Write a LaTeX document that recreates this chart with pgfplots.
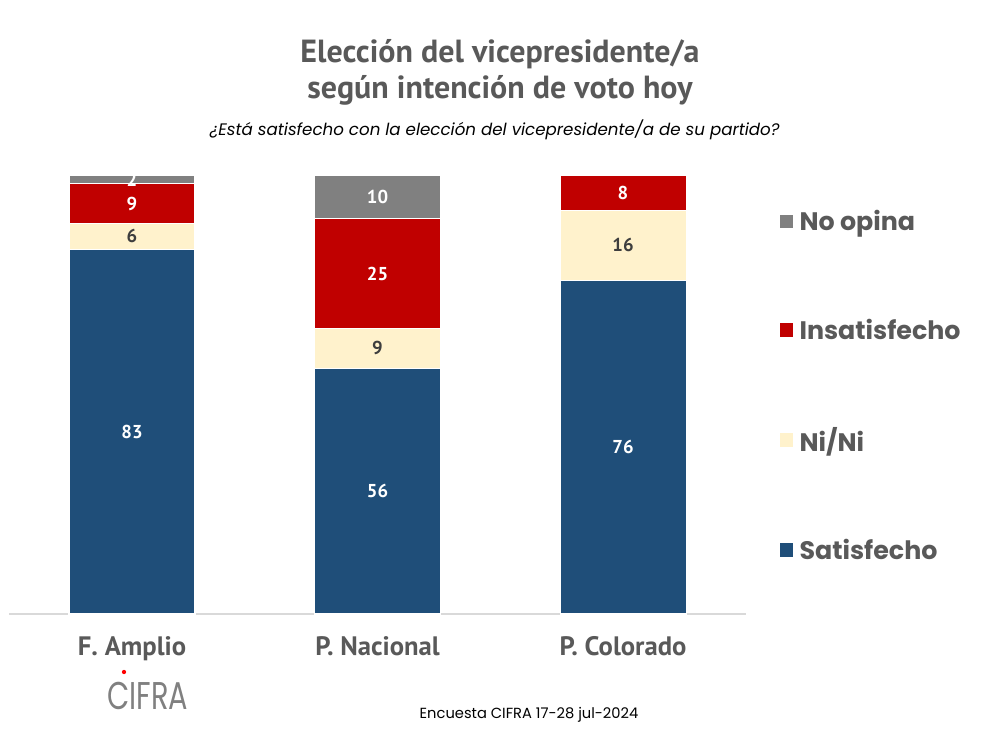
\documentclass[border=0pt]{standalone}
\usepackage{pgfplots}
\pgfplotsset{compat=1.18}
\usepackage{fontspec}
\setmainfont{PT Sans}
\newfontfamily\popp{Poppins}
\definecolor{navy}{HTML}{1F4E79}
\definecolor{cream}{HTML}{FFF2CC}
\definecolor{dred}{HTML}{C00000}
\definecolor{gr}{HTML}{808080}
\definecolor{txt}{HTML}{595959}
\definecolor{axl}{HTML}{D9D9D9}
\begin{document}
\begin{tikzpicture}
\path[use as bounding box] (0,0) rectangle (750pt,562.5pt);
% titles
\node[font=\bfseries\fontsize{24}{28}\selectfont, text=txt] at (375pt,522pt) {Elección del vicepresidente/a};
\node[font=\bfseries\fontsize{24}{28}\selectfont, text=txt] at (375pt,495pt) {según intención de voto hoy};
\node[font=\popp\itshape\fontsize{12.5}{15}\selectfont, text=black] at (371pt,465pt) {¿Está satisfecho con la elección del vicepresidente/a de su partido?};
\node[font=\popp\fontsize{11}{13}\selectfont, text=black] at (396.75pt,26.25pt) {Encuesta CIFRA 17-28 jul-2024};
\node[font=\popp\fontsize{20}{22}\selectfont, text=gr, xscale=1.08, yscale=1.45] at (111pt,40.5pt) {CIFRA};
\fill[red] (93pt,58.5pt) circle (1.6pt);

\begin{axis}[
  at={(6.94pt,102pt)}, anchor=south west,
  scale only axis, width=552.4pt, height=329.25pt,
  ybar stacked, bar width=94.5pt,
  xmin=-0.5, xmax=2.5, ymin=0, ymax=100,
  axis x line*=bottom, axis line style={axl, line width=1pt},
  hide y axis,
  xtick={0,1,2}, xticklabels={F. Amplio, P. Nacional, P. Colorado},
  major tick length=0pt,
  xticklabel style={font=\bfseries\fontsize{20}{23}\selectfont, text=txt, yshift=-13pt},
  clip=false,
  /pgf/number format/assume math mode=true,
  nodes near coords,
  every node near coord/.append style={font=\bfseries\fontsize{14}{16}\selectfont, anchor=center},
  legend style={draw=none, fill=none, at={(1.044,0.926)}, anchor=north west, inner sep=0pt,
     font=\popp\bfseries\fontsize{19}{21}\selectfont, text=txt, row sep=60.5pt, legend cell align=left,
     nodes={inner xsep=4pt}},
  reverse legend,
  legend image code/.code={\fill[#1] (0pt,-5.5pt) rectangle (11pt,5.5pt);},
]
\addplot[fill=navy, draw=white, line width=0.8pt, nodes near coords style={text=white}] coordinates {(0,83) (1,56) (2,76)};
\addplot[fill=cream, draw=white, line width=0.8pt, nodes near coords style={text=txt!70!black}] coordinates {(0,6) (1,9) (2,16)};
\addplot[fill=dred, draw=white, line width=0.8pt, nodes near coords style={text=white}] coordinates {(0,9) (1,25) (2,8)};
\addplot[fill=gr, draw=white, line width=0.8pt, nodes near coords style={text=white}] coordinates {(0,2) (1,10)};
\legend{Satisfecho, Ni/Ni, Insatisfecho, No opina}
\end{axis}
\end{tikzpicture}
\end{document}
